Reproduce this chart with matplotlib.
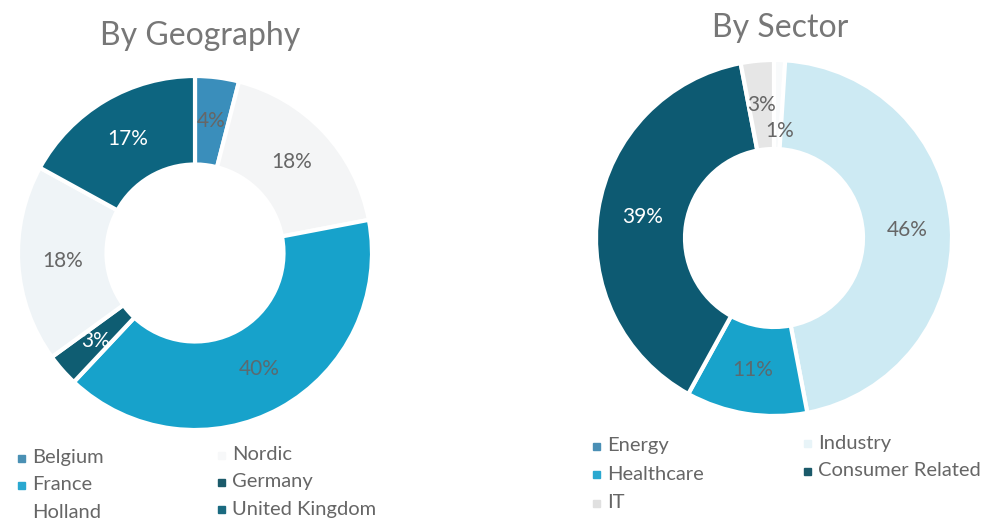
import matplotlib

matplotlib.use("Agg")
import matplotlib.pyplot as plt
from matplotlib.patches import Rectangle

plt.rcParams["font.family"] = ["Lato", "DejaVu Sans"]

# --- data -------------------------------------------------------------------
geo_labels = ["Belgium", "Nordic", "France", "Germany", "Holland", "United Kingdom"]
geo_values = [4, 18, 40, 3, 18, 17]
geo_colors = ["#3a8ebb", "#f4f5f6", "#17a2cb", "#0f5d72", "#eff4f7", "#0d6580"]
geo_legend_colors = ["#4a90b4", "#f7f8f9", "#2aa8d0", "#1b5a6a", "#ffffff", "#1a6a80"]
geo_text_colors = ["#666666", "#666666", "#5a6a70", "#ffffff", "#666666", "#ffffff"]

sec_labels = ["Energy", "Industry", "Healthcare", "Consumer Related", "IT"]
sec_values = [1, 46, 11, 39, 3]
sec_colors = ["#f8fafb", "#cdeaf3", "#18a3cb", "#0d5a72", "#e6e6e6"]
sec_legend_colors = ["#4a8fb5", "#e8f4f8", "#2aa8d0", "#1b5a6a", "#e0e0e0"]
sec_text_colors = ["#666666", "#666666", "#5a6a70", "#ffffff", "#666666"]

W, H = 994, 520
GREY = "#666666"


def donut(fig, cx, cy, r, values, colors, text_colors, title, title_xy):
    """Draw one Excel-style donut centred at pixel (cx, cy) with radius r."""
    ax = fig.add_axes([(cx - r) / W, (H - cy - r) / H, 2 * r / W, 2 * r / H])
    wedges, _, autotexts = ax.pie(
        values,
        colors=colors,
        startangle=90,
        counterclock=False,
        radius=1.0,
        autopct=lambda p: f"{p:.0f}%",
        pctdistance=0.75,
        wedgeprops=dict(width=0.5, edgecolor="white", linewidth=3),
        textprops=dict(fontsize=15),
    )
    for t, c in zip(autotexts, text_colors):
        t.set_color(c)
    ax.set_xlim(-1, 1)
    ax.set_ylim(-1, 1)
    ax.set_aspect("equal")
    ax.axis("off")
    fig.text(title_xy[0] / W, 1 - title_xy[1] / H, title, fontsize=23,
             color="#777777", ha="center", va="center")
    return ax, autotexts


def legend(fig, labels, colors, positions):
    for lab, col, (x, y) in zip(labels, colors, positions):
        fig.patches.append(Rectangle(((x - 4) / W, 1 - (y + 4) / H), 7 / W, 7 / H,
                                     transform=fig.transFigure, color=col, zorder=3))
        fig.text((x + 10) / W, 1 - y / H, lab, fontsize=14.5, color=GREY,
                 ha="left", va="center")


fig = plt.figure(figsize=(W / 100, H / 100), dpi=100)

donut(fig, 195, 253, 177, geo_values, geo_colors, geo_text_colors,
      "By Geography", (200, 36))
ax_s, sec_texts = donut(fig, 774, 238, 178, sec_values, sec_colors, sec_text_colors,
                        "By Sector", (780, 28))
# Excel nudged the tiny Energy label inward so it does not clash with IT
sec_texts[0].set_position((0.03, 0.6))

legend(fig, geo_labels, geo_legend_colors,
       [(22, 458), (222, 455), (22, 485), (222, 482), (22, 512), (222, 509)])
legend(fig, sec_labels, sec_legend_colors,
       [(597, 446), (808, 443), (597, 474), (808, 471), (597, 503)])

fig.savefig("out.png", dpi=100, facecolor="white")
